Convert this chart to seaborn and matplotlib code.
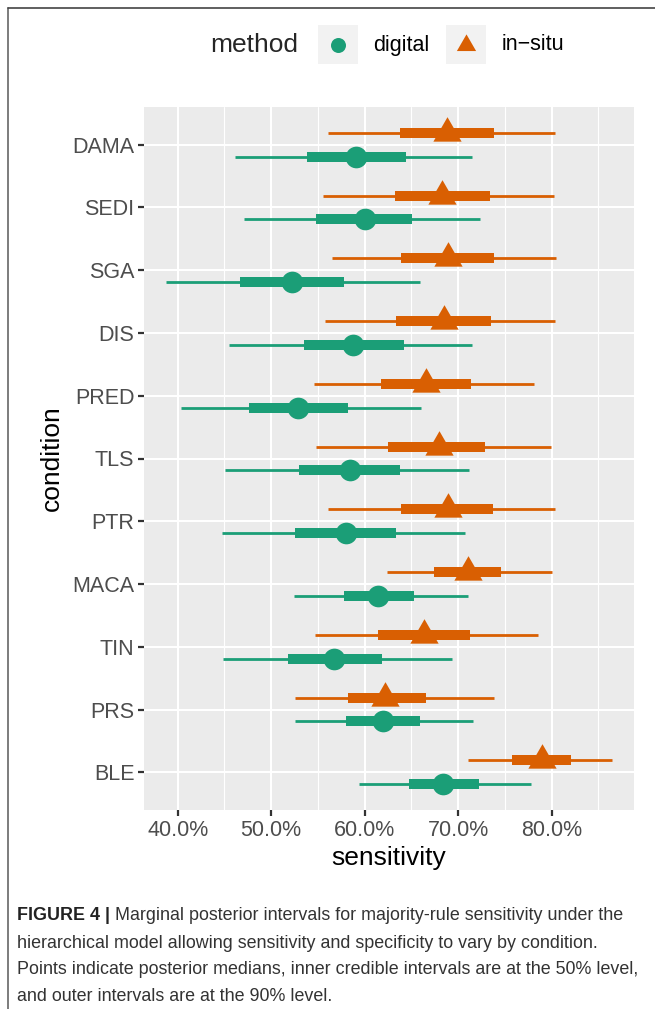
import matplotlib
matplotlib.use('Agg')
import matplotlib.pyplot as plt
import seaborn as sns
import pandas as pd
from matplotlib.lines import Line2D
from matplotlib.patches import Rectangle
from matplotlib.ticker import FuncFormatter, MultipleLocator

# data (sensitivity in percent)
conditions = ['DAMA', 'SEDI', 'SGA', 'DIS', 'PRED', 'TLS', 'PTR', 'MACA', 'TIN', 'PRS', 'BLE']

digital_lo90 = [46.1, 47.1, 38.8, 45.5, 40.4, 45.1, 44.7, 52.4, 44.8, 52.5, 59.4]
digital_lo50 = [53.8, 54.8, 46.7, 53.5, 47.6, 53.0, 52.5, 57.8, 51.8, 58.0, 64.7]
digital_med = [59.1, 60.0, 52.2, 58.8, 52.9, 58.4, 58.0, 61.4, 56.7, 62.0, 68.4]
digital_hi50 = [64.4, 65.1, 57.8, 64.2, 58.2, 63.8, 63.3, 65.3, 61.9, 65.9, 72.2]
digital_hi90 = [71.5, 72.3, 65.9, 71.5, 66.0, 71.2, 70.7, 71.0, 69.3, 71.6, 77.8]

insitu_lo90 = [56.1, 55.5, 56.5, 55.8, 54.6, 54.8, 56.1, 62.4, 54.7, 52.6, 71.1]
insitu_lo50 = [63.8, 63.2, 63.9, 63.4, 61.7, 62.5, 63.9, 67.4, 61.4, 58.2, 75.8]
insitu_med = [68.8, 68.3, 68.9, 68.5, 66.6, 67.9, 68.9, 71.1, 66.3, 62.2, 79.0]
insitu_hi50 = [73.8, 73.4, 73.8, 73.5, 71.4, 72.9, 73.7, 74.6, 71.3, 66.6, 82.1]
insitu_hi90 = [80.4, 80.2, 80.5, 80.3, 78.1, 79.9, 80.4, 80.0, 78.5, 73.8, 86.4]

methods = ['digital', 'in-situ']
legend_labels = ['digital', 'in\u2212situ']

df = pd.concat([
    pd.DataFrame({'condition': conditions, 'method': 'digital', 'lo90': digital_lo90,
                  'lo50': digital_lo50, 'med': digital_med, 'hi50': digital_hi50,
                  'hi90': digital_hi90}),
    pd.DataFrame({'condition': conditions, 'method': 'in-situ', 'lo90': insitu_lo90,
                  'lo50': insitu_lo50, 'med': insitu_med, 'hi50': insitu_hi50,
                  'hi90': insitu_hi90}),
], ignore_index=True)

sns.set_theme(style='darkgrid')
plt.rcParams['font.family'] = ['Liberation Sans', 'DejaVu Sans']

colors = {'digital': '#1b9e77', 'in-situ': '#d95f02'}
# triangle with its centroid on the point, like ggplot's shape 17
tri = [(0, 1), (-0.866, -0.5), (0.866, -0.5), (0, 1)]
markers = {'digital': 'o', 'in-situ': tri}
sizes = {'digital': 15.6 ** 2, 'in-situ': 23.5 ** 2}
dodge = {'digital': 0.19, 'in-situ': -0.19}

fig = plt.figure(figsize=(6.55, 10.09), dpi=100)
ax = fig.add_axes([144 / 655, 1 - 810 / 1009, 490 / 655, 703 / 1009])
ax.set_facecolor('#ebebeb')

pos = {c: i for i, c in enumerate(conditions)}
df['ypos'] = df['condition'].map(pos) + df['method'].map(dodge)

for m in methods:
    d = df[df['method'] == m]
    ax.hlines(d['ypos'], d['lo90'], d['hi90'], color=colors[m], lw=2.0, zorder=3,
              capstyle='butt')
    ax.hlines(d['ypos'], d['lo50'], d['hi50'], color=colors[m], lw=7.2, zorder=4,
              capstyle='butt')
    sns.scatterplot(data=d, x='med', y='ypos', marker=markers[m], s=sizes[m],
                    color=colors[m], linewidth=0, ax=ax, zorder=5, legend=False)

ax.set_xlim(36.4, 88.8)
ax.set_ylim(10.6, -0.6)
ax.xaxis.set_major_locator(MultipleLocator(10))
ax.xaxis.set_minor_locator(MultipleLocator(5))
ax.xaxis.set_major_formatter(FuncFormatter(lambda v, p: f'{v:.1f}%'))
ax.set_yticks(range(len(conditions)))
ax.set_yticklabels(conditions)

ax.grid(which='major', color='white', lw=1.5)
ax.grid(which='minor', axis='x', color='white', lw=0.8)
for s in ax.spines.values():
    s.set_visible(False)
ax.tick_params(axis='both', which='major', length=4, width=1.6, color='#333333',
               labelsize=15.5, labelcolor='#4d4d4d', pad=3, bottom=True, left=True)
ax.tick_params(which='minor', length=0)

ax.set_xlabel('sensitivity', fontsize=19, color='black', labelpad=4)
ax.set_ylabel('condition', fontsize=19, color='black', labelpad=6)

# legend on top, ggplot style
W, H = 655, 1009
fig.text(210 / W, 1 - 45 / H, 'method', fontsize=19, va='center', ha='left')
for x0, m, lab, lx in [(318, 'digital', legend_labels[0], 373),
                       (446, 'in-situ', legend_labels[1], 502)]:
    fig.add_artist(Rectangle((x0 / W, 1 - 64 / H), 40 / W, 39 / H,
                             transform=fig.transFigure, facecolor='#f2f2f2',
                             edgecolor='none'))
    ms = 10.8 if m == 'digital' else 16
    fig.add_artist(Line2D([(x0 + 20) / W], [1 - 45 / H], transform=fig.transFigure,
                          marker=markers[m], markersize=ms, color=colors[m],
                          markeredgewidth=0, linestyle='none'))
    fig.text(lx / W, 1 - 45 / H, lab, fontsize=15.5, va='center', ha='left',
             color='black')

# frame of the figure panel
fig.add_artist(Line2D([7.5 / W, 7.5 / W], [0, 1 - 8 / H], transform=fig.transFigure,
                      color='#666666', lw=1.2))
fig.add_artist(Line2D([7.5 / W, 1], [1 - 8 / H, 1 - 8 / H], transform=fig.transFigure,
                      color='#444444', lw=1.2))

# caption
cap_col = '#333333'
cap_size = 12.9
bold = fig.text(17 / W, 1 - 916 / H, 'FIGURE 4 |', fontsize=cap_size,
                fontweight='bold', color='#222222', va='center', ha='left')
fig.canvas.draw()
bb = bold.get_window_extent()
fig.text((bb.x1 + 5) / W, 1 - 916 / H,
         'Marginal posterior intervals for majority-rule sensitivity under the',
         fontsize=cap_size, color=cap_col, va='center', ha='left')
rest = ['hierarchical model allowing sensitivity and specificity to vary by condition.',
        'Points indicate posterior medians, inner credible intervals are at the 50% level,',
        'and outer intervals are at the 90% level.']
for k, line in enumerate(rest):
    fig.text(17 / W, 1 - (943 + 26.7 * k) / H, line, fontsize=cap_size, color=cap_col,
             va='center', ha='left')

fig.savefig('out.png', dpi=100)
